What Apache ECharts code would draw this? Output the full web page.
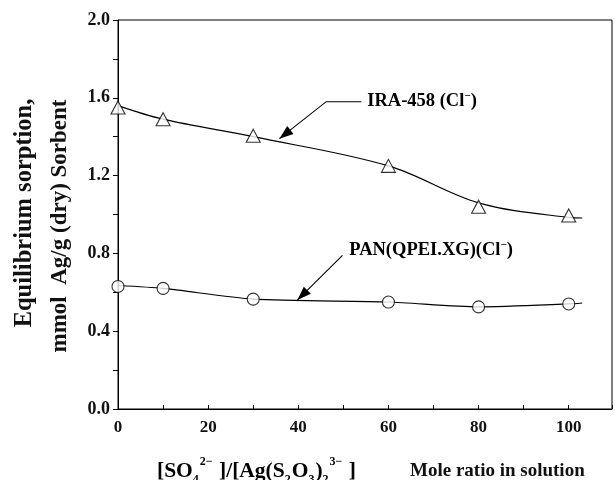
<!DOCTYPE html>
<html>
<head>
<meta charset="utf-8">
<script src="https://cdn.jsdelivr.net/npm/echarts@6/dist/echarts.min.js"></script>
<style>html,body{margin:0;padding:0;background:#fff}#c{width:615px;height:480px}</style>
</head>
<body>
<div id="c"></div>
<script>
// ---- data ----
const xValues = [0, 10, 30, 60, 80, 100];
const iraValues = [1.55, 1.49, 1.405, 1.25, 1.04, 0.995];
const panValues = [0.63, 0.62, 0.565, 0.55, 0.525, 0.54];
// fitted curves as drawn in the figure (read at the same x plus the curve end)
const curveX = [0, 10, 30, 60, 80, 100, 103];
const iraCurve = [1.56, 1.49, 1.40, 1.25, 1.06, 0.985, 0.982];
const panCurve = [0.635, 0.62, 0.565, 0.55, 0.525, 0.54, 0.545];
const xTickLabels = [0, 20, 40, 60, 80, 100];
const yTickLabels = ['0.0', '0.4', '0.8', '1.2', '1.6', '2.0'];
// annotation anchors in data units: [tip, elbow, end], label position
const iraArrow = [[35.8, 1.39], [46.2, 1.58], [54.0, 1.58]];
const iraLabelAt = [55.3, 1.58];
const panArrow = [[39.8, 0.56], [49.8, 0.79]];
const panLabelAt = [51.3, 0.815];

const FONT = '"Liberation Serif","Times New Roman",serif';
const chart = echarts.init(document.getElementById('c'), null, {renderer: 'canvas'});

const pair = (xs, ys) => xs.map((x, i) => [x, ys[i]]);

chart.setOption({
  animation: false,
  backgroundColor: '#fff',
  grid: {left: 118, right: 2, top: 20, bottom: 71, show: true, borderColor: '#000', borderWidth: 1},
  xAxis: {
    type: 'value', min: 0, max: 109.6, interval: 10,
    axisLine: {lineStyle: {color: '#000', width: 1}},
    axisTick: {inside: true, length: 4, lineStyle: {color: '#000'}},
    splitLine: {show: false},
    axisLabel: {
      margin: 10, color: '#111', fontFamily: FONT, fontWeight: 'bold', fontSize: 17,
      formatter: v => xTickLabels.indexOf(Math.round(v * 1000) / 1000) >= 0 ? String(v) : ''
    }
  },
  yAxis: {
    type: 'value', min: 0, max: 2, interval: 0.2,
    axisLine: {lineStyle: {color: '#000', width: 1}},
    axisTick: {inside: false, length: 5, lineStyle: {color: '#000'}},
    splitLine: {show: false},
    axisLabel: {
      margin: 8, color: '#111', fontFamily: FONT, fontWeight: 'bold', fontSize: 18,
      formatter: v => { const s = v.toFixed(1); return yTickLabels.indexOf(s) >= 0 ? s : ''; }
    }
  },
  series: [
    {type: 'line', data: pair(curveX, iraCurve), smooth: 0.35, symbol: 'none', z: 2,
     lineStyle: {color: '#000', width: 1.2}},
    {type: 'line', data: pair(curveX, panCurve), smooth: 0.25, symbol: 'none', z: 2,
     lineStyle: {color: '#000', width: 1.2}},
    {type: 'scatter', data: pair(xValues, iraValues), symbol: 'triangle', symbolSize: [14, 13], z: 3,
     itemStyle: {color: '#fff', borderColor: '#000', borderWidth: 1.1}},
    {type: 'scatter', data: pair(xValues, panValues), symbol: 'circle', symbolSize: 12, z: 3,
     itemStyle: {color: '#fff', borderColor: '#000', borderWidth: 1.1}}
  ]
});

function px(p) { return chart.convertToPixel({gridIndex: 0}, p); }
function arrowHead(tip, from, len, half) {
  const dx = tip[0] - from[0], dy = tip[1] - from[1];
  const d = Math.hypot(dx, dy), ux = dx / d, uy = dy / d;
  const bx = tip[0] - ux * len, by = tip[1] - uy * len;
  return [tip, [bx - uy * half, by + ux * half], [bx + uy * half, by - ux * half]];
}
const rich = {
  f: {fontFamily: FONT, fontWeight: 'bold', fontSize: 21.5, color: '#111', lineHeight: 30, verticalAlign: 'middle'},
  sub: {fontFamily: FONT, fontWeight: 'bold', fontSize: 12, color: '#111', lineHeight: 30, verticalAlign: 'bottom', padding: [0, 1, 0, 0]},
  sup: {fontFamily: FONT, fontWeight: 'bold', fontSize: 12, color: '#111', lineHeight: 30, verticalAlign: 'top', padding: [0, 1, 0, 0]}
};
const richLbl = {
  b: {fontFamily: FONT, fontWeight: 'bold', fontSize: 18.5, color: '#111', lineHeight: 22, verticalAlign: 'middle'},
  sup: {fontFamily: FONT, fontWeight: 'bold', fontSize: 11, color: '#111', lineHeight: 22, verticalAlign: 'top'}
};

const ia = iraArrow.map(px), pa = panArrow.map(px);
const il = px(iraLabelAt), pl = px(panLabelAt);
chart.setOption({
  graphic: [
    {type: 'polyline', shape: {points: [ia[2], ia[1], ia[0]]}, style: {stroke: '#000', lineWidth: 1.1, fill: null}, z: 10},
    {type: 'polygon', shape: {points: arrowHead(ia[0], ia[1], 14, 5)}, style: {fill: '#000'}, z: 10},
    {type: 'polyline', shape: {points: [pa[1], pa[0]]}, style: {stroke: '#000', lineWidth: 1.1, fill: null}, z: 10},
    {type: 'polygon', shape: {points: arrowHead(pa[0], pa[1], 14, 5)}, style: {fill: '#000'}, z: 10},
    {type: 'text', x: il[0], y: il[1], z: 10,
     style: {text: '{b|IRA-458 (Cl}{sup|−}{b|)}', rich: richLbl, align: 'left', verticalAlign: 'middle'}},
    {type: 'text', x: pl[0], y: pl[1], z: 10,
     style: {text: '{b|PAN(QPEI.XG)(Cl}{sup|−}{b|)}', rich: richLbl, align: 'left', verticalAlign: 'middle'}},
    {type: 'text', x: 157, y: 471, z: 10,
     style: {text: '{f|[SO}{sub|4}{sup|2−}{f| ]/[Ag(S}{sub|2}{f|O}{sub|3}{f|)}{sub|2}{sup|3−}{f| ]}',
             rich: rich, align: 'left', verticalAlign: 'middle'}},
    {type: 'text', x: 410, y: 471, z: 10,
     style: {text: 'Mole ratio in solution', fontFamily: FONT, fontWeight: 'bold', fontSize: 19, fill: '#111', align: 'left', verticalAlign: 'middle'}},
    {type: 'text', x: 25, y: 213, rotation: Math.PI / 2, z: 10,
     style: {text: 'Equilibrium sorption,', fontFamily: FONT, fontWeight: 'bold', fontSize: 24.5, fill: '#111', align: 'center', verticalAlign: 'middle'}},
    {type: 'text', x: 60, y: 226, rotation: Math.PI / 2, z: 10,
     style: {text: 'mmol  Ag/g (dry) Sorbent', fontFamily: FONT, fontWeight: 'bold', fontSize: 23, fill: '#111', align: 'center', verticalAlign: 'middle'}}
  ]
});
</script>
</body>
</html>
